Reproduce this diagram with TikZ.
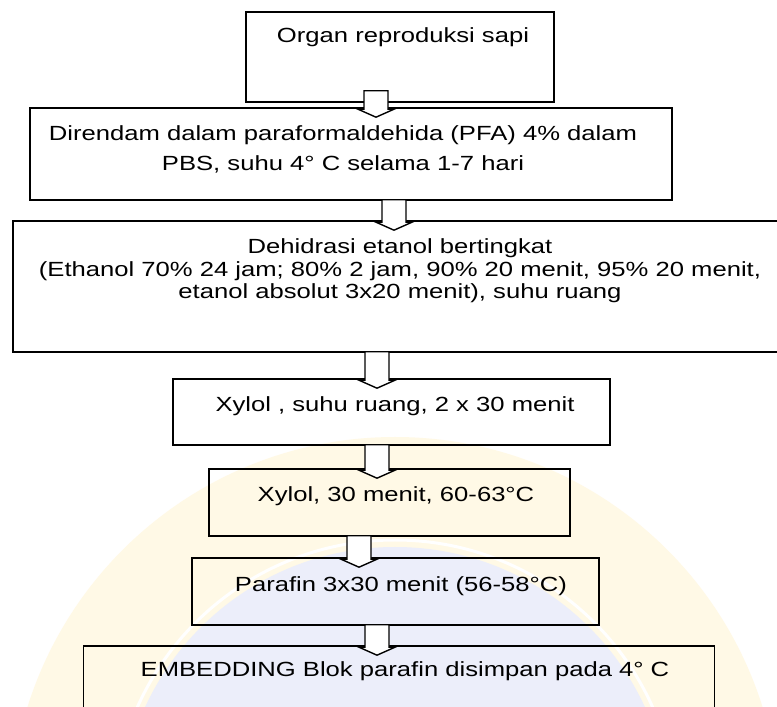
\documentclass[tikz,border=0pt]{standalone}
\usepackage{fontspec}
\setmainfont{Liberation Sans}[FakeStretch=1.25]
\usetikzlibrary{calc}

\definecolor{markyellow}{HTML}{FFF9E6}
\definecolor{markblue}{HTML}{ECEEFA}

\tikzset{
  stepbox/.style={draw=black, line width=1.6pt, rectangle, inner sep=0pt},
  steptext/.style={align=center, inner sep=0pt, font=\fontsize{20.5}{22.5}\selectfont},
  blockarrow/.style={draw=black, fill=white, line width=1.4pt, line join=miter},
}

% hollow block arrow from the bottom of one box to the top of the next
% #1 upper box, #2 lower box, #3 x position, #4 how far the shaft reaches into the upper box
\newcommand\flowarrow[4]{%
  \draw[blockarrow] let \p1=(#1.south), \p2=(#2.north) in
    ({#3pt-12pt},{\y1+#4pt}) -- ({#3pt-12pt},{\y2-2pt}) -- ({#3pt-18pt},{\y2-2pt})
    -- ({#3pt},{\y2-10pt}) -- ({#3pt+18pt},{\y2-2pt}) -- ({#3pt+12pt},{\y2-2pt})
    -- ({#3pt+12pt},{\y1+#4pt}) -- cycle;}

\begin{document}
\begin{tikzpicture}[x=1pt, y=1pt]
  \useasboundingbox (0,0) rectangle (777,707);
  \fill[white] (0,0) rectangle (777,707);

  % faint seal in the background
  \begin{scope}
    \clip (0,0) rectangle (777,707);
    \fill[markyellow] (395,-115) circle[radius=385];
    \draw[white, line width=3pt] (395,-115) circle[radius=282];
    \fill[markblue] (395,-115) circle[radius=275];
  \end{scope}

  % process boxes
  \node[stepbox, minimum width=308, minimum height=90]  (b1) at (400,650)   {};
  \node[stepbox, minimum width=642, minimum height=92]  (b2) at (351,553)   {};
  \node[stepbox, minimum width=790, minimum height=131] (b3) at (408,420.5) {};
  \node[stepbox, minimum width=437, minimum height=66]  (b4) at (391.5,295) {};
  \node[stepbox, minimum width=361, minimum height=67]  (b5) at (389.5,204.5) {};
  \node[stepbox, minimum width=407, minimum height=67]  (b6) at (395.5,115.5) {};
  \node[stepbox, minimum width=631, minimum height=100] (b7) at (399,11)    {};

  % box texts
  \node[steptext] (t1) at (403,670) {Organ reproduksi sapi};
  \node[steptext] (t2) at (343,558) {Direndam dalam paraformaldehida (PFA) 4\% dalam\\[7.5pt]
    PBS, suhu 4° C selama 1-7 hari};
  \node[steptext] (t3) at (400,436) {Dehidrasi etanol bertingkat\\
    (Ethanol 70\% 24 jam; 80\% 2 jam, 90\% 20 menit, 95\% 20 menit,\\
    etanol absolut 3x20 menit), suhu ruang};
  \node[steptext] (t4) at (395,301) {Xylol , suhu ruang, 2 x 30 menit};
  \node[steptext] (t5) at (396,211) {Xylol, 30 menit, 60-63°C};
  \node[steptext] (t6) at (401,121) {Parafin 3x30 menit (56-58°C)};
  \node[steptext] (t7) at (405,36)  {EMBEDDING Blok parafin disimpan pada 4° C};

  % connectors
  \flowarrow{b1}{b2}{376}{12}
  \flowarrow{b2}{b3}{394}{1}
  \flowarrow{b3}{b4}{377}{1}
  \flowarrow{b4}{b5}{377}{1}
  \flowarrow{b5}{b6}{359}{1}
  \flowarrow{b6}{b7}{377}{1}
\end{tikzpicture}
\end{document}
